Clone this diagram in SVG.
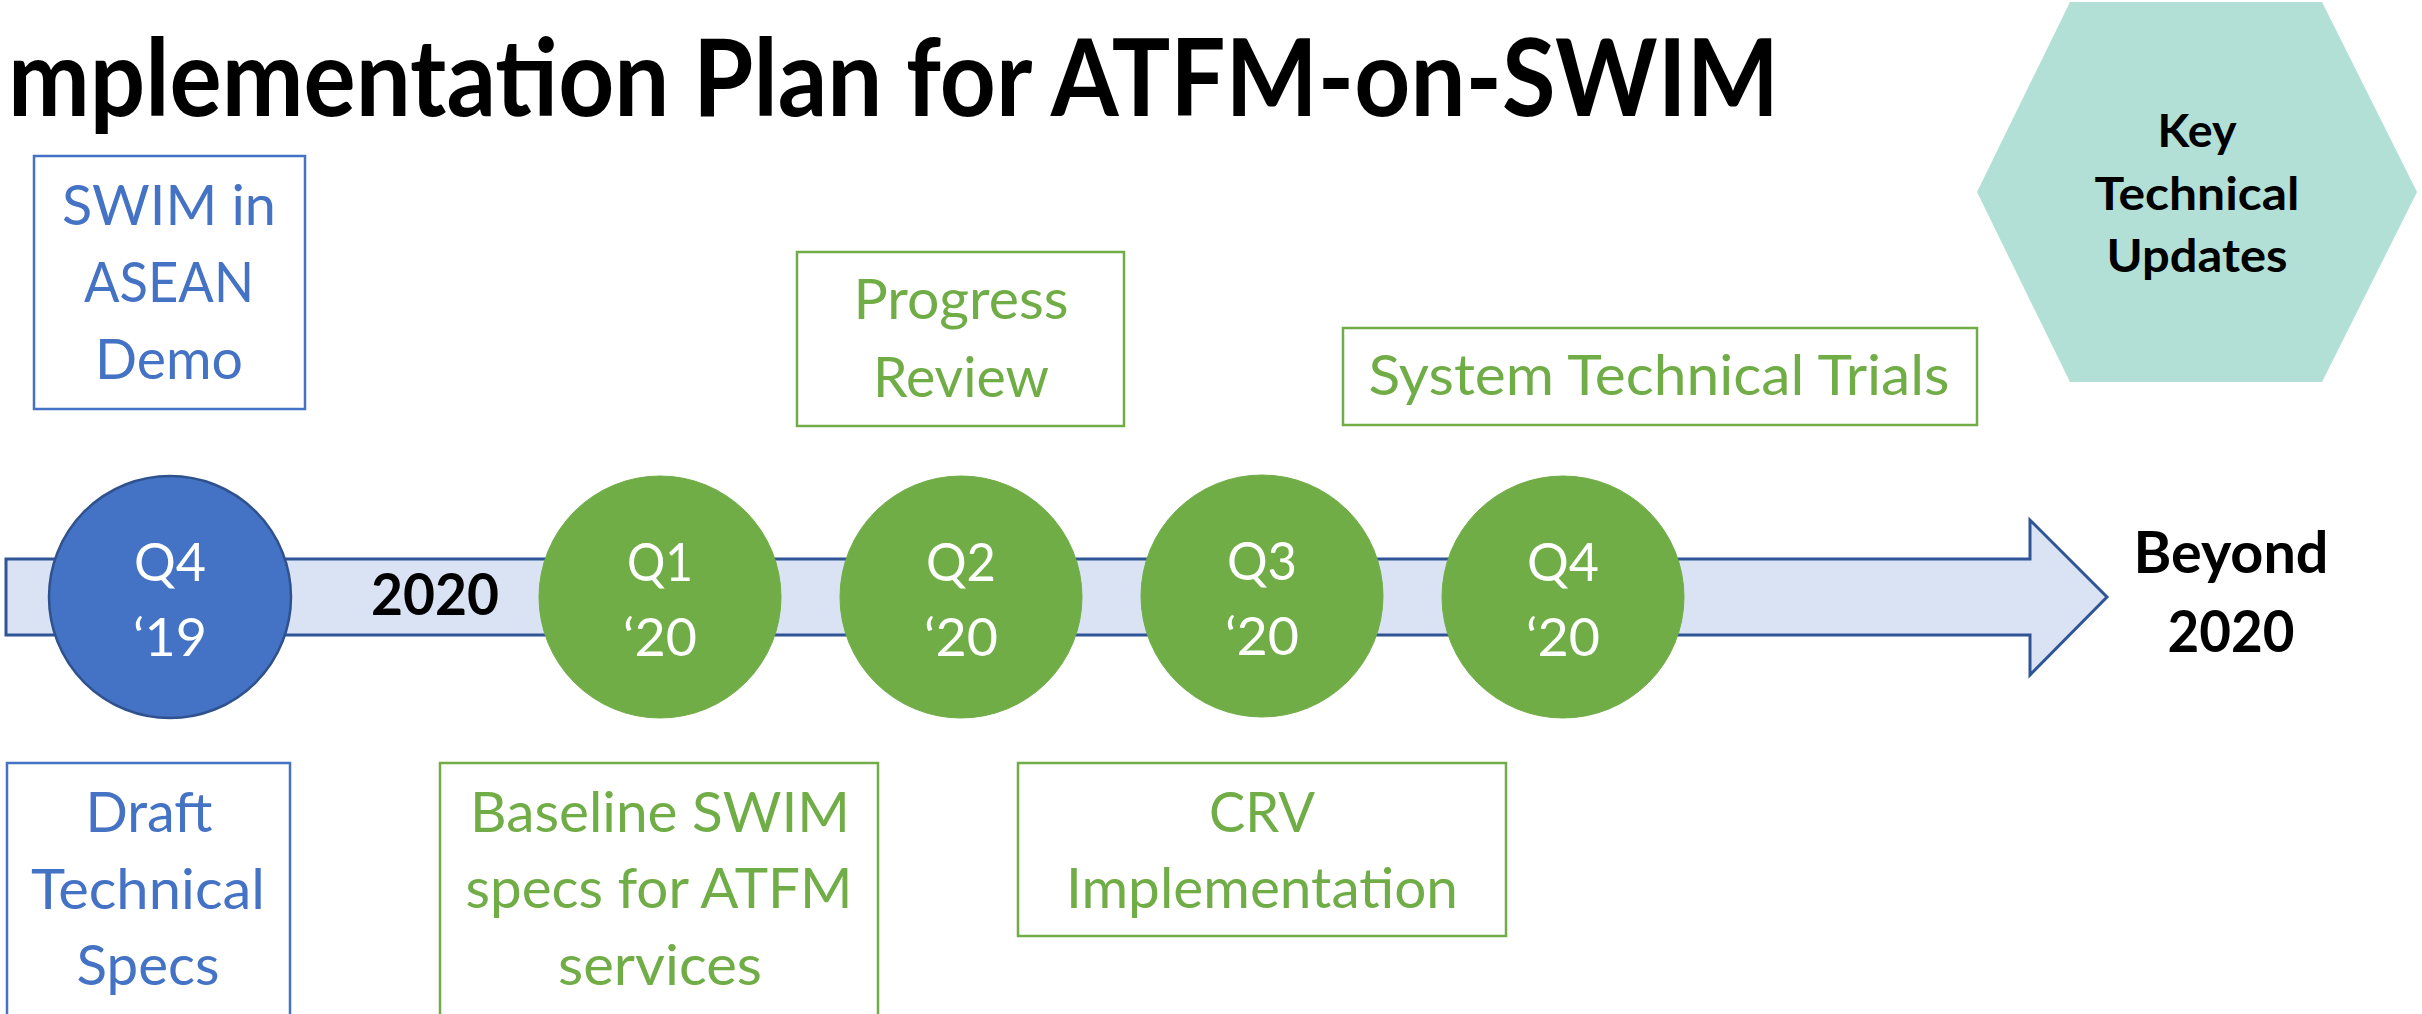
<svg xmlns="http://www.w3.org/2000/svg" width="2422" height="1014" viewBox="0 0 2422 1014">
<style>
  text { font-family: Lato, "Open Sans", "Liberation Sans", sans-serif; }
  .blueTxt { fill: #4472C4; font-size: 57px; text-anchor: middle; }
  .greenTxt { fill: #70AD47; font-size: 57px; text-anchor: middle; }
  .whiteTxt { fill: #FFFFFF; font-size: 53px; text-anchor: middle; }
  .bold { font-weight: bold; fill: #000000; text-anchor: middle; }
  .blueBox { fill: #FFFFFF; stroke: #4472C4; stroke-width: 2.5; }
  .greenBox { fill: #FFFFFF; stroke: #70AD47; stroke-width: 2.5; }
  .greenCircle { fill: #70AD47; stroke: #70AD47; stroke-width: 1; }
  .blueCircle { fill: #4472C4; stroke: #2F528F; stroke-width: 2.5; }
</style>
<rect x="0" y="0" width="2422" height="1014" fill="#FFFFFF"/>

<g id="title">
  <text x="8" y="116" font-size="108" font-weight="bold" fill="#000000" textLength="1771" lengthAdjust="spacingAndGlyphs">mplementation Plan for ATFM-on-SWIM</text>
</g>

<g id="key-updates">
  <polygon points="1977,192 2070,2 2322,2 2417,192 2322,382 2070,382" fill="#B3E0D6"/>
  <text class="bold" x="2197" y="147" font-size="46" textLength="79" lengthAdjust="spacingAndGlyphs">Key</text>
  <text class="bold" x="2197" y="210" font-size="46" textLength="205" lengthAdjust="spacingAndGlyphs">Technical</text>
  <text class="bold" x="2197" y="272" font-size="46" textLength="181" lengthAdjust="spacingAndGlyphs">Updates</text>
</g>

<g id="connectors">
  <polygon id="timeline-arrow" points="6,559 2030,559 2030,520 2107,597 2030,675 2030,635 6,635 Z" fill="#DAE3F3" stroke="#2F5597" stroke-width="3" stroke-linejoin="miter"/>
</g>

<g id="label-2020">
  <text class="bold" x="435" y="615" font-size="58" textLength="128" lengthAdjust="spacingAndGlyphs">2020</text>
</g>

<g id="beyond-2020">
  <text class="bold" x="2231" y="573" font-size="58" textLength="195" lengthAdjust="spacingAndGlyphs">Beyond</text>
  <text class="bold" x="2231" y="652" font-size="58" textLength="127" lengthAdjust="spacingAndGlyphs">2020</text>
</g>

<g id="q4-19">
  <circle class="blueCircle" cx="170" cy="597" r="121"/>
  <text class="whiteTxt" x="170" y="581" textLength="72" lengthAdjust="spacingAndGlyphs">Q4</text>
  <text class="whiteTxt" x="170" y="656" textLength="74" lengthAdjust="spacingAndGlyphs">‘19</text>
</g>

<g id="q1-20">
  <circle class="greenCircle" cx="660" cy="597" r="121"/>
  <text class="whiteTxt" x="660" y="581" textLength="66" lengthAdjust="spacingAndGlyphs">Q1</text>
  <text class="whiteTxt" x="660" y="656" textLength="74" lengthAdjust="spacingAndGlyphs">‘20</text>
</g>

<g id="q2-20">
  <circle class="greenCircle" cx="961" cy="597" r="121"/>
  <text class="whiteTxt" x="961" y="581" textLength="70" lengthAdjust="spacingAndGlyphs">Q2</text>
  <text class="whiteTxt" x="961" y="656" textLength="74" lengthAdjust="spacingAndGlyphs">‘20</text>
</g>

<g id="q3-20">
  <circle class="greenCircle" cx="1262" cy="596" r="121"/>
  <text class="whiteTxt" x="1262" y="580" textLength="70" lengthAdjust="spacingAndGlyphs">Q3</text>
  <text class="whiteTxt" x="1262" y="655" textLength="74" lengthAdjust="spacingAndGlyphs">‘20</text>
</g>

<g id="q4-20">
  <circle class="greenCircle" cx="1563" cy="597" r="121"/>
  <text class="whiteTxt" x="1563" y="581" textLength="72" lengthAdjust="spacingAndGlyphs">Q4</text>
  <text class="whiteTxt" x="1563" y="656" textLength="74" lengthAdjust="spacingAndGlyphs">‘20</text>
</g>

<g id="swim-asean-demo">
  <rect class="blueBox" x="34" y="156" width="271" height="253"/>
  <text class="blueTxt" x="169" y="225" textLength="214" lengthAdjust="spacingAndGlyphs">SWIM in</text>
  <text class="blueTxt" x="169" y="302" textLength="170" lengthAdjust="spacingAndGlyphs">ASEAN</text>
  <text class="blueTxt" x="169" y="379" textLength="148" lengthAdjust="spacingAndGlyphs">Demo</text>
</g>

<g id="progress-review">
  <rect class="greenBox" x="797" y="252" width="327" height="174"/>
  <text class="greenTxt" x="961" y="319" textLength="215" lengthAdjust="spacingAndGlyphs">Progress</text>
  <text class="greenTxt" x="961" y="397" textLength="176" lengthAdjust="spacingAndGlyphs">Review</text>
</g>

<g id="system-technical-trials">
  <rect class="greenBox" x="1343" y="328" width="634" height="97"/>
  <text class="greenTxt" x="1659" y="395" textLength="581" lengthAdjust="spacingAndGlyphs">System Technical Trials</text>
</g>

<g id="draft-technical-specs">
  <rect class="blueBox" x="7" y="763" width="283" height="280"/>
  <text class="blueTxt" x="149" y="832" textLength="127" lengthAdjust="spacingAndGlyphs">Draft</text>
  <text class="blueTxt" x="148" y="909" textLength="234" lengthAdjust="spacingAndGlyphs">Technical</text>
  <text class="blueTxt" x="148" y="985" textLength="143" lengthAdjust="spacingAndGlyphs">Specs</text>
</g>

<g id="baseline-swim-specs">
  <rect class="greenBox" x="440" y="763" width="438" height="280"/>
  <text class="greenTxt" x="660" y="832" textLength="380" lengthAdjust="spacingAndGlyphs">Baseline SWIM</text>
  <text class="greenTxt" x="659" y="908" textLength="387" lengthAdjust="spacingAndGlyphs">specs for ATFM</text>
  <text class="greenTxt" x="660" y="985" textLength="204" lengthAdjust="spacingAndGlyphs">services</text>
</g>

<g id="crv-implementation">
  <rect class="greenBox" x="1018" y="763" width="488" height="173"/>
  <text class="greenTxt" x="1262" y="832" textLength="106" lengthAdjust="spacingAndGlyphs">CRV</text>
  <text class="greenTxt" x="1262" y="908" textLength="392" lengthAdjust="spacingAndGlyphs">Implementation</text>
</g>
</svg>
